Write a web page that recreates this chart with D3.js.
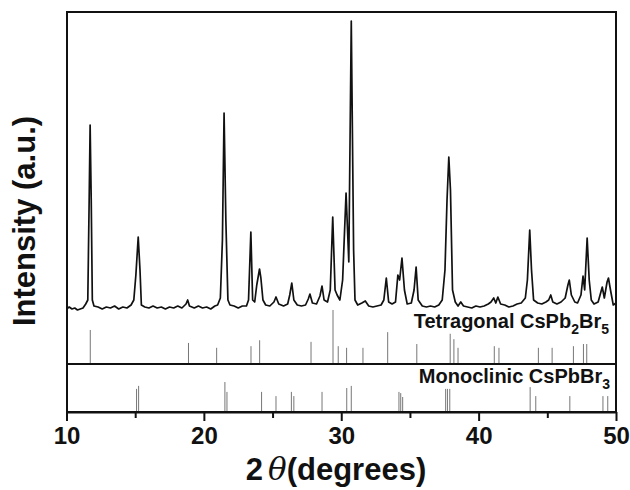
<!DOCTYPE html>
<html>
<head>
    <meta charset="utf-8" />
    <title>XRD pattern CsPb2Br5</title>
    <style>
        body { margin: 0; background: #fff; }
        svg text { font-family: "Liberation Sans", Arial, Helvetica, sans-serif; font-weight: bold; fill: #111; }
        .spec { fill: none; stroke: #111; stroke-width: 1.7px; stroke-linejoin: round; }
        .stick { stroke: #777; stroke-width: 1px; }
        .axis path, .axis line { stroke: #111; stroke-width: 2px; }
    </style>
    <script src="https://cdn.jsdelivr.net/npm/d3@7/dist/d3.min.js"></script>
</head>
<body>
<script>
// measured pattern: 2theta (deg) and intensity (a.u.)
var twoTheta = [10.0, 10.2, 10.4, 10.6, 10.8, 11.0, 11.2, 11.4, 11.55, 11.65, 11.72, 11.8, 11.88, 12.0, 12.3, 12.6, 12.9, 13.2, 13.5, 13.8,
    14.1, 14.4, 14.7, 14.9, 15.05, 15.22, 15.35, 15.45, 15.7, 16.0, 16.3, 16.6, 16.9, 17.2, 17.5, 17.8, 18.1, 18.4, 18.7, 18.82,
    18.95, 19.3, 19.6, 19.9, 20.2, 20.5, 20.8, 21.0, 21.2, 21.35, 21.47, 21.6, 21.75, 21.9, 22.2, 22.5, 22.8, 23.1, 23.25, 23.42,
    23.55, 23.7, 23.85, 24.05, 24.15, 24.3, 24.5, 24.8, 25.1, 25.25, 25.45, 25.8, 26.1, 26.25, 26.4, 26.55, 26.8, 27.1, 27.4, 27.6,
    27.72, 27.9, 28.2, 28.45, 28.6, 28.75, 29.0, 29.2, 29.38, 29.55, 29.7, 29.9, 30.1, 30.35, 30.55, 30.73, 30.9, 31.0, 31.2, 31.5,
    31.75, 32.0, 32.3, 32.6, 32.9, 33.1, 33.28, 33.45, 33.7, 33.95, 34.12, 34.25, 34.42, 34.6, 34.8, 35.1, 35.3, 35.45, 35.6, 35.9,
    36.2, 36.5, 36.8, 37.1, 37.35, 37.55, 37.7, 37.83, 37.95, 38.1, 38.3, 38.5, 38.7, 38.9, 39.2, 39.5, 39.8, 40.1, 40.4, 40.7,
    40.9, 41.1, 41.25, 41.4, 41.6, 41.9, 42.2, 42.5, 42.8, 43.1, 43.4, 43.55, 43.72, 43.85, 44.0, 44.3, 44.6, 44.9, 45.1, 45.25,
    45.4, 45.7, 46.0, 46.3, 46.5, 46.6, 46.75, 47.0, 47.2, 47.45, 47.6, 47.72, 47.9, 48.05, 48.2, 48.4, 48.7, 48.9, 49.0, 49.15,
    49.35, 49.45, 49.6, 49.8, 50.0];
var intensity = [10, 30, 10, 20, 0, 10, 20, 60, 100, 1100, 1850, 1100, 100, 40, 30, 10, 30, 20, 40, 10,
    30, 20, 50, 100, 350, 730, 400, 50, 30, 20, 40, 20, 30, 10, 30, 20, 40, 20, 60, 100,
    40, 20, 40, 20, 30, 10, 40, 50, 120, 700, 1970, 900, 100, 50, 40, 20, 40, 40, 100, 780,
    100, 80, 250, 410, 320, 100, 50, 40, 80, 130, 60, 40, 60, 150, 270, 100, 50, 40, 50, 110,
    160, 70, 60, 140, 240, 100, 80, 200, 930, 200, 150, 100, 300, 1170, 480, 2890, 600, 100, 50, 70,
    90, 40, 30, 40, 50, 100, 320, 80, 60, 80, 350, 300, 520, 200, 60, 70, 200, 430, 100, 40,
    30, 40, 30, 50, 100, 400, 1100, 1530, 1200, 200, 80, 40, 80, 40, 30, 20, 40, 30, 40, 60,
    80, 120, 70, 130, 60, 50, 30, 40, 60, 70, 120, 300, 800, 400, 100, 70, 60, 80, 100, 150,
    80, 60, 80, 120, 250, 300, 150, 80, 70, 150, 340, 200, 720, 300, 100, 60, 80, 180, 230, 120,
    280, 320, 200, 50, 70];

// reference patterns: peak positions and relative intensities (%)
var tetraPos = [11.73, 18.88, 20.93, 23.43, 24.06, 27.8, 29.4, 29.78, 30.39, 31.58, 33.38, 35.5, 37.93, 38.2, 38.5,
    41.14, 41.48, 44.35, 45.35, 46.9, 47.63, 47.87];
var tetraInt = [63, 39, 30, 33, 44, 41, 100, 33, 30, 30, 59, 37, 56, 46, 30, 33, 30, 30, 30, 33, 37, 37];
var monoPos = [15.1, 15.25, 21.53, 21.68, 24.2, 25.25, 26.37, 26.55, 28.6, 30.4, 30.73, 34.2, 34.33, 34.47,
    37.6, 37.73, 37.9, 43.75, 44.16, 46.64, 49.05, 49.4];
var monoInt = [77, 87, 100, 67, 67, 53, 67, 53, 67, 80, 87, 67, 63, 50, 77, 77, 77, 83, 53, 53, 53, 53];

var majorTicks = [10, 20, 30, 40, 50];
var minorTicks = [15, 25, 35, 45];

var plotLeft = 67, plotRight = 616, plotTop = 12, plotBottom = 412;
var specBase = 310, midLine = 364;

var svg = d3.select('body').append('svg')
    .attr('width', 630)
    .attr('height', 490);

var x = d3.scaleLinear().domain([10, 50]).range([plotLeft - 0.5, plotRight]);
var y = d3.scaleLinear().domain([0, 2980]).range([specBase, plotTop]);
var yT = d3.scaleLinear().domain([0, 100]).range([midLine, midLine - 54]);
var yM = d3.scaleLinear().domain([0, 100]).range([plotBottom, plotBottom - 30]);

// reference sticks
svg.append('g').selectAll('line')
    .data(tetraPos)
    .enter().append('line')
    .attr('class', 'stick')
    .attr('x1', function(d) { return x(d); })
    .attr('x2', function(d) { return x(d); })
    .attr('y1', yT(0))
    .attr('y2', function(d, i) { return yT(tetraInt[i]); });

svg.append('g').selectAll('line')
    .data(monoPos)
    .enter().append('line')
    .attr('class', 'stick')
    .attr('x1', function(d) { return x(d); })
    .attr('x2', function(d) { return x(d); })
    .attr('y1', yM(0))
    .attr('y2', function(d, i) { return yM(monoInt[i]); });

// measured pattern
var specLine = d3.line()
    .x(function(d) { return x(d); })
    .y(function(d, i) { return y(intensity[i]); });

svg.append('path')
    .datum(twoTheta)
    .attr('class', 'spec')
    .attr('d', specLine);

// frame and divider
svg.append('rect')
    .attr('x', plotLeft).attr('y', plotTop)
    .attr('width', plotRight - plotLeft).attr('height', plotBottom - plotTop)
    .attr('fill', 'none')
    .attr('stroke', '#111')
    .attr('stroke-width', 2);

svg.append('line')
    .attr('x1', plotLeft).attr('x2', plotRight)
    .attr('y1', midLine).attr('y2', midLine)
    .attr('stroke', '#111')
    .attr('stroke-width', 2);

// x-axis
var xAxis = svg.append('g')
    .attr('class', 'axis')
    .attr('transform', 'translate(0,' + plotBottom + ')')
    .call(d3.axisBottom(x).tickValues(majorTicks).tickSize(9).tickPadding(6).tickSizeOuter(0));
xAxis.selectAll('text')
    .style('font-size', '24px')
    .style('font-family', '"Liberation Sans", Arial, sans-serif')
    .style('font-weight', 'bold')
    .attr('fill', '#111');

svg.append('g')
    .attr('class', 'axis')
    .attr('transform', 'translate(0,' + plotBottom + ')')
    .call(d3.axisBottom(x).tickValues(minorTicks).tickSize(6).tickFormat('').tickSizeOuter(0))
    .select('.domain').remove();

// pattern labels
var tLabel = svg.append('text')
    .attr('x', 609).attr('y', 328)
    .attr('text-anchor', 'end')
    .style('font-size', '20px');
tLabel.append('tspan').text('Tetragonal CsPb');
tLabel.append('tspan').attr('dy', 6).style('font-size', '14px').text('2');
tLabel.append('tspan').attr('dy', -6).text('Br');
tLabel.append('tspan').attr('dy', 6).style('font-size', '14px').text('5');

var mLabel = svg.append('text')
    .attr('x', 610).attr('y', 383)
    .attr('text-anchor', 'end')
    .style('font-size', '20px');
mLabel.append('tspan').text('Monoclinic CsPbBr');
mLabel.append('tspan').attr('dy', 6).style('font-size', '14px').text('3');

// axis titles
var xTitle = svg.append('text')
    .attr('x', 336).attr('y', 480)
    .attr('text-anchor', 'middle')
    .style('font-size', '31px');
xTitle.append('tspan').text('2');
xTitle.append('tspan').attr('dx', 5).style('font-style', 'italic').style('font-weight', 'normal')
    .style('font-family', '"DejaVu Serif", serif').text('θ');
xTitle.append('tspan').text('(degrees)');

svg.append('text')
    .attr('transform', 'translate(35,221) rotate(-90)')
    .attr('text-anchor', 'middle')
    .style('font-size', '31px')
    .text('Intensity (a.u.)');
</script>
</body>
</html>
